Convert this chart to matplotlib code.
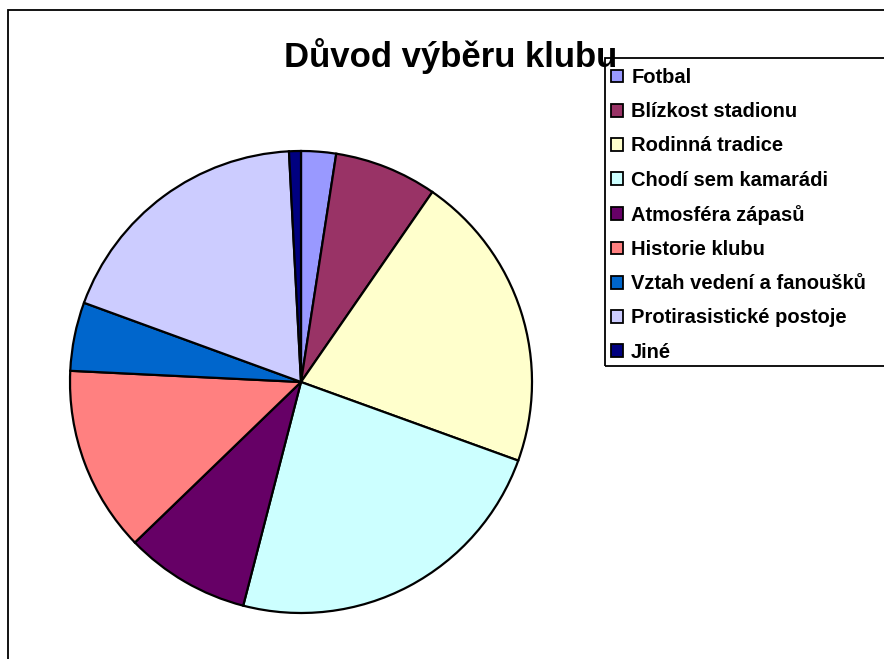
import matplotlib
matplotlib.use("Agg")
import matplotlib.pyplot as plt
from matplotlib.patches import Rectangle, Patch

categories = ["Fotbal", "Blízkost stadionu", "Rodinná tradice", "Chodí sem kamarádi",
              "Atmosféra zápasů", "Historie klubu", "Vztah vedení a fanoušků",
              "Protirasistické postoje", "Jiné"]
values = [2.44, 7.19, 20.9, 23.5, 8.75, 13.0, 4.8, 18.6, 0.83]
colors = ["#9999FF", "#993366", "#FFFFCC", "#CCFFFF", "#660066",
          "#FF8080", "#0066CC", "#CCCCFF", "#000080"]
title = "Důvod výběru klubu"

W, H = 884, 659
plt.rcParams['font.family'] = ['Liberation Sans', 'DejaVu Sans']
fig = plt.figure(figsize=(W / 100, H / 100), dpi=100)

def fx(px):
    return px / W

def fy(py):
    return 1 - py / H

# outer frame
fig.patches.append(Rectangle((fx(8), fy(700)), 1.2, fy(10) - fy(700), transform=fig.transFigure,
                             fill=False, edgecolor="black", linewidth=1.3, zorder=0))

cx, cy, r = 301, 382, 231
ax = fig.add_axes([(cx - r) / W, (H - cy - r) / H, 2 * r / W, 2 * r / H])
ax.pie(values, colors=colors, startangle=90, counterclock=False,
       wedgeprops=dict(edgecolor="black", linewidth=1.6))
ax.set_aspect("equal")
ax.set_xlim(-1, 1)
ax.set_ylim(-1, 1)
ax.axis("off")

fig.text(fx(451), fy(56), title, ha="center", va="center",
         fontsize=25, fontweight="bold", zorder=1)

# legend box (extends past the right edge like the reference)
fig.patches.append(Rectangle((fx(605), fy(366)), 1.0, fy(58) - fy(366), transform=fig.transFigure,
                             fill=False, edgecolor="black", linewidth=1.3, zorder=2))

handles = [Patch(facecolor=c, edgecolor="black", linewidth=1.3) for c in colors]
leg = fig.legend(handles, categories, loc="upper left",
                 bbox_to_anchor=(fx(605), fy(62)),
                 prop=dict(size=14.5, weight="bold"),
                 frameon=False,
                 handlelength=0.6, handleheight=0.6, handletextpad=0.4,
                 labelspacing=0.755, borderpad=0.3, borderaxespad=0)
leg.set_zorder(3)

fig.savefig("out.png", dpi=100)
